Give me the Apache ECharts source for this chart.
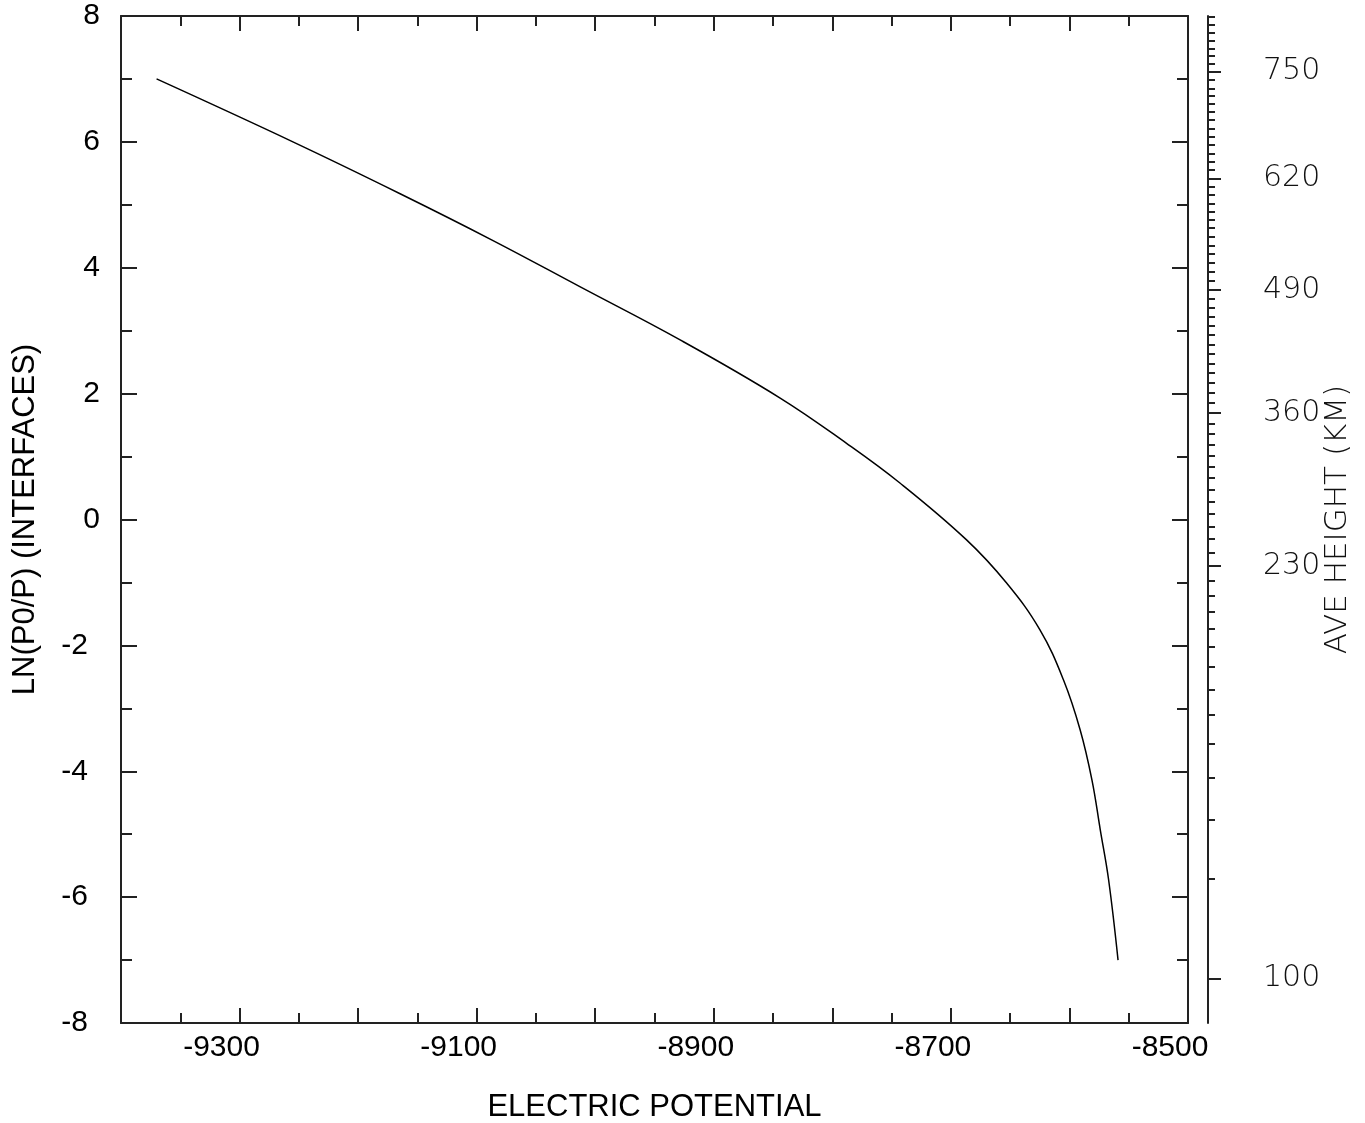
<!DOCTYPE html>
<html>
<head>
<meta charset="utf-8">
<title>LN(P0/P) vs ELECTRIC POTENTIAL</title>
<script src="https://cdn.jsdelivr.net/npm/echarts@6.0.0/dist/echarts.min.js"></script>
<style>
	html, body { margin: 0; padding: 0; background: #fff; }
	#chart { width: 1365px; height: 1123px; }
</style>
</head>
<body>
<div id="chart"></div>
<script>
	//curve
	var potential = [-9370, -9255, -9165, -9087, -9013, -8928, -8844, -8788, -8743, -8687, -8653, -8625, -8605, -8591, -8581, -8574, -8567, -8559];
	var lnRatio = [7.0, 6.0, 5.18, 4.44, 3.70, 2.85, 1.93, 1.21, 0.58, -0.32, -1.01, -1.75, -2.55, -3.34, -4.14, -4.93, -5.72, -7.0];

	//bottom axis labels
	var xLabels = [-9300, -9100, -8900, -8700, -8500];

	//right axis: height ticks (km) and where each sits on the ln(P0/P) scale
	var heightKm = [100, 110, 120, 130, 140, 150, 160, 170, 180, 190,
		200, 210, 220, 230, 240, 250, 260, 270, 280, 290,
		300, 310, 320, 330, 340, 350, 360, 370, 380, 390,
		400, 410, 420, 430, 440, 450, 460, 470, 480, 490,
		500, 510, 520, 530, 540, 550, 560, 570, 580, 590,
		600, 610, 620, 630, 640, 650, 660, 670, 680, 690,
		700, 710, 720, 730, 740, 750, 760, 770, 780, 790,
		800, 810, 820];
	var heightLn = [-7.295, -5.707, -4.770, -4.098, -3.567, -3.102, -2.705, -2.340, -2.022, -1.736,
		-1.466, -1.212, -0.974, -0.736, -0.524, -0.312, -0.111, 0.090, 0.286, 0.476,
		0.657, 0.837, 1.016, 1.191, 1.361, 1.520, 1.690, 1.849, 2.012, 2.166,
		2.325, 2.473, 2.632, 2.779, 2.929, 3.077, 3.224, 3.367, 3.505, 3.648,
		3.796, 3.939, 4.082, 4.215, 4.352, 4.495, 4.628, 4.760, 4.892, 5.024,
		5.157, 5.289, 5.422, 5.554, 5.686, 5.819, 5.951, 6.083, 6.216, 6.348,
		6.475, 6.602, 6.729, 6.852, 6.983, 7.115, 7.238, 7.365, 7.487, 7.608,
		7.735, 7.857, 7.989];
	var heightLabels = [100, 230, 360, 490, 620, 750];

	var seriesData = [];
	for(var i = 0; i < potential.length; i++) {
		seriesData.push([potential[i], lnRatio[i]]);
	}

	//ln positions of the labelled heights
	var majorLn = [];
	for(var j = 0; j < heightLabels.length; j++) {
		majorLn.push(heightLn[heightKm.indexOf(heightLabels[j])]);
	}

	function heightOf(v) {
		for(var k = 0; k < heightLn.length; k++) {
			if(Math.abs(heightLn[k] - v) < 1e-9) return heightKm[k];
		}
		return '';
	}

	var frameLine = { color: '#222', width: 2 };
	var thinText = { fontFamily: 'DejaVu Sans', fontWeight: 200, fontSize: 30, color: '#111' };

	var myChart = echarts.init(document.getElementById('chart'));

	var option = {
		animation: false,
		backgroundColor: '#fff',
		grid: {
			left: 121,
			right: 177,
			top: 16,
			bottom: 100,
			containLabel: false,
			outerBoundsMode: 'none'
		},
		xAxis: [{
			type: 'value',
			position: 'bottom',
			min: -9400,
			max: -8500,
			interval: 100,
			axisLine: { show: true, onZero: false, lineStyle: frameLine },
			axisTick: { show: true, inside: true, length: 15, lineStyle: frameLine },
			minorTick: { show: true, splitNumber: 2, length: 10, lineStyle: frameLine },
			splitLine: { show: false },
			axisLabel: {
				customValues: xLabels,
				margin: 10,
				padding: [0, 36, 0, 0],
				fontFamily: 'Liberation Sans',
				fontSize: 30,
				color: '#000',
				formatter: function(v) {
					return String(v);
				}
			},
			name: 'ELECTRIC POTENTIAL',
			nameLocation: 'middle',
			nameGap: 69,
			nameMoveOverlap: false,
			nameTextStyle: { fontFamily: 'Liberation Sans', fontSize: 31, color: '#000' }
		}, {
			//top edge of the frame
			type: 'value',
			position: 'top',
			min: -9400,
			max: -8500,
			interval: 100,
			axisLine: { show: true, onZero: false, lineStyle: frameLine },
			axisTick: { show: true, inside: true, length: 15, lineStyle: frameLine },
			minorTick: { show: true, splitNumber: 2, length: 10, lineStyle: frameLine },
			splitLine: { show: false },
			axisLabel: { show: false }
		}],
		yAxis: [{
			type: 'value',
			position: 'left',
			min: -8,
			max: 8,
			interval: 2,
			axisLine: { show: true, onZero: false, lineStyle: frameLine },
			axisTick: { show: true, inside: true, length: 16, lineStyle: frameLine },
			minorTick: { show: true, splitNumber: 2, length: 11, lineStyle: frameLine },
			splitLine: { show: false },
			axisLabel: {
				margin: 21,
				formatter: function(v) {
					//minus-sign labels hang further left in the original
					return v < 0 ? '{n|' + v + '}' : '{p|' + v + '}';
				},
				rich: {
					p: { fontFamily: 'Liberation Sans', fontSize: 30, color: '#000' },
					n: { fontFamily: 'Liberation Sans', fontSize: 30, color: '#000', padding: [0, 12, 0, 0] }
				}
			},
			name: 'LN(P0/P) (INTERFACES)',
			nameLocation: 'middle',
			nameGap: 80,
			nameMoveOverlap: false,
			nameTextStyle: { fontFamily: 'Liberation Sans', fontSize: 31, color: '#000' }
		}, {
			//right edge of the frame
			type: 'value',
			position: 'right',
			offset: 0,
			min: -8,
			max: 8,
			interval: 2,
			axisLine: { show: true, onZero: false, lineStyle: frameLine },
			axisTick: { show: true, inside: true, length: 16, lineStyle: frameLine },
			minorTick: { show: true, splitNumber: 2, length: 11, lineStyle: frameLine },
			splitLine: { show: false },
			axisLabel: { show: false }
		}, {
			//height scale, every 10 km
			type: 'value',
			position: 'right',
			offset: 20,
			min: -8,
			max: 8,
			axisLine: { show: true, onZero: false, lineStyle: { color: '#222', width: 2 } },
			axisTick: { show: true, inside: false, length: 7, customValues: heightLn, lineStyle: { color: '#222', width: 2 } },
			splitLine: { show: false },
			axisLabel: { show: false }
		}, {
			//height scale, labelled ticks
			type: 'value',
			position: 'right',
			offset: 20,
			min: -8,
			max: 8,
			axisLine: { show: false },
			axisTick: { show: true, inside: false, length: 13, customValues: majorLn, lineStyle: { color: '#222', width: 2 } },
			splitLine: { show: false },
			axisLabel: {
				customValues: majorLn,
				margin: 55,
				align: 'left',
				fontFamily: thinText.fontFamily,
				fontWeight: thinText.fontWeight,
				fontSize: thinText.fontSize,
				color: thinText.color,
				formatter: function(v) {
					return String(heightOf(v));
				}
			},
			name: 'AVE HEIGHT (KM)',
			nameLocation: 'middle',
			nameRotate: 90,
			nameGap: 114,
			nameMoveOverlap: false,
			nameTextStyle: { fontFamily: 'DejaVu Sans', fontWeight: 200, fontSize: 31, color: '#111' }
		}],
		series: [{
			type: 'line',
			xAxisIndex: 0,
			yAxisIndex: 0,
			data: seriesData,
			showSymbol: false,
			smooth: 0.4,
			lineStyle: { color: '#000', width: 1.5 }
		}]
	};

	myChart.setOption(option);
</script>
</body>
</html>
